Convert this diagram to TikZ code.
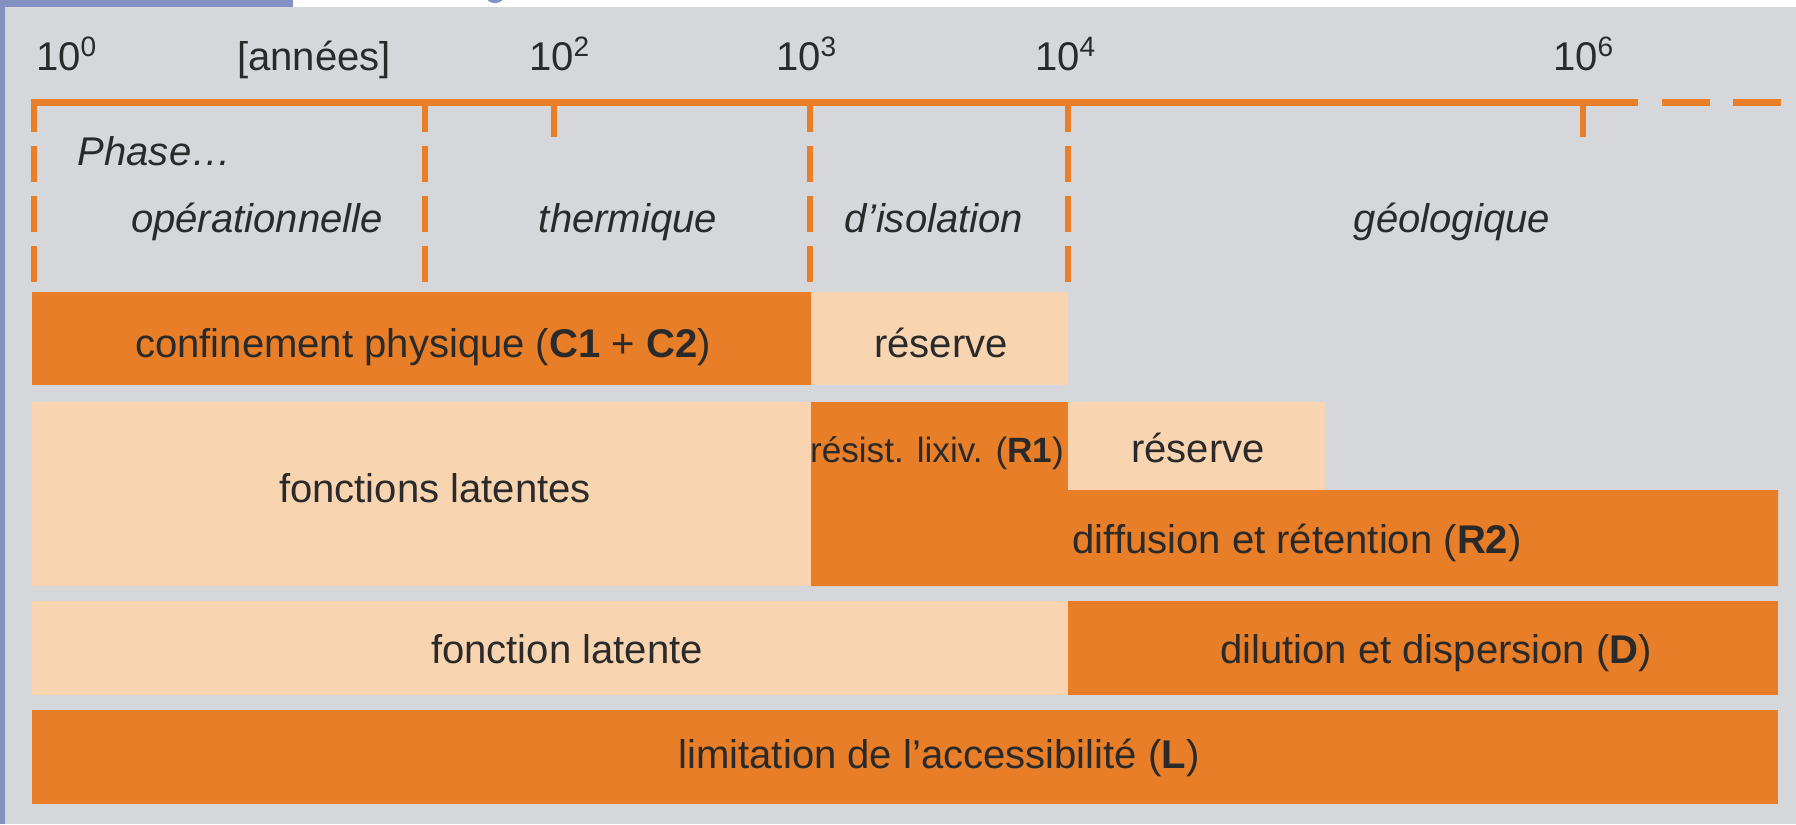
\documentclass[tikz,border=0pt]{standalone}
\usepackage{fontspec}
\setmainfont{Liberation Sans}
\definecolor{cdOrange}{HTML}{E87E27}
\definecolor{cdPeach}{HTML}{F9D4B0}
\definecolor{cdGray}{HTML}{D5D7DB}
\definecolor{cdBlue}{HTML}{8290C2}
\definecolor{cdText}{HTML}{2A2A2A}

\begin{document}
\begin{tikzpicture}[x=0.1mm,y=-0.1mm,
  lbl/.style={inner sep=0pt,anchor=base,text=cdText,font=\fontsize{11.4}{13}\selectfont},
  phaselbl/.style={lbl,font=\fontsize{11.4}{13}\selectfont\itshape},
  hibar/.style={fill=cdOrange},
  lobar/.style={fill=cdPeach},
  axisln/.style={cdOrange,line width=0.7mm},
  phaseln/.style={cdOrange,line width=0.6mm,dash pattern=on 3.6mm off 1.4mm,dash phase=0.3mm},
  tickln/.style={cdOrange,line width=0.6mm}]
\useasboundingbox (0,0) rectangle (1796,824);
% frame and background
\fill[cdBlue] (0,0) rectangle (293,8);
\fill[cdBlue] (0,0) rectangle (5,824);
\fill[white] (293,0) rectangle (1796,7);
\fill[cdGray] (5,7) rectangle (1796,824);
\begin{scope}
\clip (293,0) rectangle (1796,7);
\fill[cdBlue] (495,-2) ellipse (8 and 5);
\end{scope}
% time axis
\draw[axisln] (31,102) -- (1638,102);
\draw[axisln,dash pattern=on 4.8mm off 2.3mm] (1662,102) -- (1782,102);
\foreach \x in {34,425,810,1068}
  \draw[phaseln] (\x,99) -- (\x,283);
\foreach \x in {554,1583}
  \draw[tickln] (\x,99) -- (\x,137);
\node[lbl] (y0) at (67,70) {10\textsuperscript{0}};
\node[lbl] (unit) at (314,70) {[années]};
\node[lbl] (y2) at (560,70) {10\textsuperscript{2}};
\node[lbl] (y3) at (807,70) {10\textsuperscript{3}};
\node[lbl] (y4) at (1066,70) {10\textsuperscript{4}};
\node[lbl] (y6) at (1584,70) {10\textsuperscript{6}};
% phases
\node[phaselbl,anchor=base west] (phase) at (77,165) {Phase…};
\node[phaselbl] (oper) at (257,232) {opérationnelle};
\node[phaselbl] (therm) at (628,232) {thermique};
\node[phaselbl] (isol) at (934,232) {d’isolation};
\node[phaselbl] (geol) at (1452,232) {géologique};
% barriers
\fill[hibar] (32,292) rectangle (811,385);
\fill[lobar] (811,292) rectangle (1068,385);
\fill[lobar] (32,402) rectangle (811,586);
\fill[hibar] (811,402) -- (1068,402) -- (1068,490) -- (1778,490) -- (1778,586) -- (811,586) -- cycle;
\fill[lobar] (1068,402) rectangle (1325,490);
\fill[lobar] (32,601) rectangle (1068,695);
\fill[hibar] (1068,601) rectangle (1778,695);
\fill[hibar] (32,710) rectangle (1778,804);
\node[lbl] (conf) at (423,357) {confinement physique (\textbf{C1} + \textbf{C2})};
\node[lbl] (res1) at (941,357) {réserve};
\node[lbl] (latn) at (435,502) {fonctions latentes};
\node[lbl,font=\fontsize{10}{12}\selectfont] (lixiv) at (937,462) {résist. lixiv. (\textbf{R1})};
\node[lbl] (res2) at (1198,462) {réserve};
\node[lbl] (diffret) at (1297,553) {diffusion et rétention (\textbf{R2})};
\node[lbl] (latn1) at (567,663) {fonction latente};
\node[lbl] (dilut) at (1436,663) {dilution et dispersion (\textbf{D})};
\node[lbl] (limit) at (939,768) {limitation de l’accessibilité (\textbf{L})};
\end{tikzpicture}
\end{document}
